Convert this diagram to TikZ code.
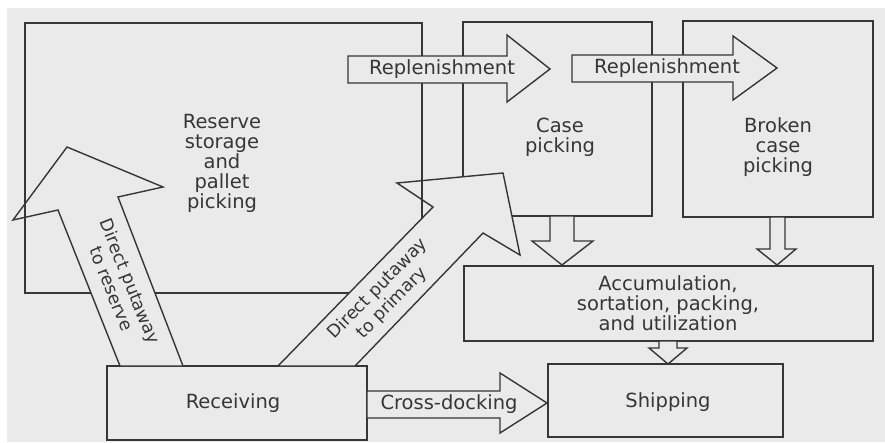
\documentclass[tikz,border=0pt]{standalone}
\usepackage{fontspec}
\setmainfont{DejaVu Sans}
\definecolor{paper}{HTML}{EAEAEA}
\definecolor{ink}{HTML}{363636}
\begin{document}
\begin{tikzpicture}[x=1pt,y=-1pt,
  boxline/.style={draw=ink, line width=1.5pt},
  blockarrow/.style={draw=ink, fill=paper, line width=1.4pt, line join=miter},
  lbl/.style={text=ink, font=\fontsize{19.5}{20}\selectfont, align=center, inner sep=0pt},
  albl/.style={text=ink, font=\fontsize{17.5}{20}\selectfont, align=center, inner sep=0pt}]
\useasboundingbox (0,0) rectangle (885,442);
\fill[white] (0,0) rectangle (885,442);
\fill[paper] (7,8) rectangle (885,442);

% boxes
\draw[boxline] (25,23) rectangle (422,293);
\draw[boxline] (463,22) rectangle (652,216);
\draw[boxline] (683,21) rectangle (873,217);
\draw[boxline] (464,266) rectangle (873,341);
\draw[boxline] (548,364) rectangle (783,437);
\draw[boxline] (107,366) rectangle (367,440);

% block arrows
\draw[blockarrow] (348,56) -- (507,56) -- (507,35) -- (550,69) -- (507,102) -- (507,83) -- (348,83) -- cycle;
\draw[blockarrow] (572,55) -- (733,55) -- (733,36) -- (777,68) -- (733,100) -- (733,82) -- (572,82) -- cycle;
\draw[blockarrow] (550,216) -- (574,216) -- (574,241) -- (593,241) -- (562,265) -- (532,241) -- (550,241) -- cycle;
\draw[blockarrow] (770,217) -- (785,217) -- (785,249) -- (796,249) -- (777,265) -- (757,249) -- (770,249) -- cycle;
\draw[blockarrow] (659,341) -- (677,341) -- (677,348) -- (687,348) -- (668,364) -- (649,348) -- (659,348) -- cycle;
\draw[blockarrow] (367,391) -- (500,391) -- (500,373) -- (547,403) -- (500,433) -- (500,418) -- (367,418) -- cycle;
\draw[blockarrow] (120,366) -- (58,210) -- (13,220) -- (67,147) -- (163,187) -- (118,197) -- (183,366) -- cycle;
\draw[blockarrow] (278,366) -- (433,207) -- (397,183) -- (503,173) -- (520,255) -- (483,233) -- (355,366) -- cycle;

% box edges showing through the arrow heads
\draw[boxline] (25,23) -- (25,293);
\draw[boxline] (422,180.6) -- (422,218.3);

% labels
\node[lbl] (reserve) at (222,163) {Reserve\\storage\\and\\pallet\\picking};
\node[lbl] (case) at (560,137) {Case\\picking};
\node[lbl] (broken) at (778,147) {Broken\\case\\picking};
\node[lbl] (accum) at (668,303) {Accumulation,\\sortation, packing,\\and utilization};
\node[lbl] (ship) at (668,402) {Shipping};
\node[lbl] (recv) at (233,403) {Receiving};
\node[lbl] (repl1) at (442,69) {Replenishment};
\node[lbl] (repl2) at (667,68) {Replenishment};
\node[lbl] (xdock) at (449,404) {Cross-docking};
\node[albl, rotate=-68.3] (dres) at (121,285) {Direct putaway\\to reserve};
\node[albl, rotate=45.5] (dprim) at (385,296) {Direct putaway\\to primary};
\end{tikzpicture}
\end{document}
